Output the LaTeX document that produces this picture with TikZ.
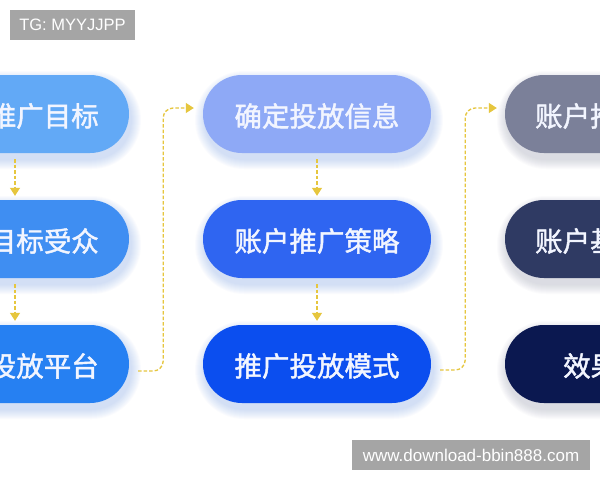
\documentclass[tikz,border=0pt]{standalone}
\usepackage{fontspec}
\setmainfont{Liberation Sans}
\newfontfamily\cjk{Noto Sans CJK SC}[FakeBold=1.6]
\usetikzlibrary{arrows.meta,calc}
\definecolor{cA}{HTML}{62A9F6}
\definecolor{cB}{HTML}{3F8EF2}
\definecolor{cC}{HTML}{2680F2}
\definecolor{cD}{HTML}{8EA9F6}
\definecolor{cE}{HTML}{2F65F1}
\definecolor{cF}{HTML}{0B4EEF}
\definecolor{cG}{HTML}{7B8099}
\definecolor{cH}{HTML}{2F3A63}
\definecolor{cI}{HTML}{0B1850}
\definecolor{gBlue}{HTML}{6F9AF2}
\definecolor{gGray}{HTML}{8A8FA8}
\definecolor{flowc}{HTML}{E6C63E}
\definecolor{wm}{HTML}{A5A5A5}
\definecolor{txt}{HTML}{F2F5FF}
\newcommand\glowpill[5]{%
  \foreach \i in {1,...,10}{%
    \pgfmathsetmacro\rr{39+\i}%
    \fill[#5, opacity=0.03, rounded corners=\rr pt]
      ({#2-114-\i+2},{#3-39-\i+6}) rectangle ({#2+114+\i+2},{#3+39+\i+6});
  }%
  \node[pill, fill=#4] (#1) at (#2,#3) {};
}
\begin{document}
\begin{tikzpicture}[x=1pt,y=-1pt,
  pill/.style={rounded corners=39pt, minimum width=228pt, minimum height=78pt, inner sep=0pt, draw=none},
  lbl/.style={font=\cjk\fontsize{27.5}{28}\selectfont, text=txt, inner sep=0pt},
  flow/.style={draw=flowc, line width=1.3pt, dash pattern=on 3.5pt off 2pt, rounded corners=10pt,
    -{Triangle[width=10pt,length=8pt,fill=flowc]}},
  wmbox/.style={fill=wm, text=white, inner sep=0pt}]
\useasboundingbox (0,0) rectangle (600,480);
\clip (0,0) rectangle (600,480);
\fill[white] (0,0) rectangle (600,480);
% column 1
\glowpill{c1a}{15}{114}{cA}{gBlue}
\glowpill{c1b}{15}{239}{cB}{gBlue}
\glowpill{c1c}{15}{364}{cC}{gBlue}
% column 2
\glowpill{c2a}{317}{114}{cD}{gBlue}
\glowpill{c2b}{317}{239}{cE}{gBlue}
\glowpill{c2c}{317}{364}{cF}{gBlue}
% column 3
\glowpill{c3a}{619}{114}{cG}{gGray}
\glowpill{c3b}{619}{239}{cH}{gGray}
\glowpill{c3c}{619}{364}{cI}{gGray}
% labels
\node[lbl, anchor=east] (t1a) at (99,116) {推广目标};
\node[lbl, anchor=east] (t1b) at (99,241) {目标受众};
\node[lbl, anchor=east] (t1c) at (99,366) {投放平台};
\node[lbl] (t2a) at (317,116) {确定投放信息};
\node[lbl] (t2b) at (317,241) {账户推广策略};
\node[lbl] (t2c) at (317,366) {推广投放模式};
\node[lbl, anchor=west] (t3a) at (535,116) {账户推};
\node[lbl, anchor=west] (t3b) at (535,241) {账户基};
\node[lbl, anchor=west] (t3c) at (563,366) {效果};
% vertical arrows
\draw[flow] ($(c1a.south)+(0,6)$) -- ($(c1b.north)+(0,-4)$);
\draw[flow] ($(c1b.south)+(0,6)$) -- ($(c1c.north)+(0,-4)$);
\draw[flow] ($(c2a.south)+(0,6)$) -- ($(c2b.north)+(0,-4)$);
\draw[flow] ($(c2b.south)+(0,6)$) -- ($(c2c.north)+(0,-4)$);
% column links
\coordinate (k1) at ($(c1c.east)+(9,7)$);
\coordinate (k2) at ($(c2c.east)+(9,6)$);
\draw[flow] (k1) -- ($(k1)+(25,0)$) |- ($(c2a.west)+(-9,-6)$);
\draw[flow] (k2) -- ($(k2)+(25,0)$) |- ($(c3a.west)+(-8,-6)$);
% watermarks
\node[wmbox, minimum width=125pt, minimum height=30pt, font=\fontsize{16.5}{17}\selectfont] (wm1) at (72.5,25) {TG: MYYJJPP};
\node[wmbox, minimum width=238pt, minimum height=30pt, font=\fontsize{17}{18}\selectfont] (wm2) at (471,455) {www.download-bbin888.com};
\end{tikzpicture}
\end{document}
